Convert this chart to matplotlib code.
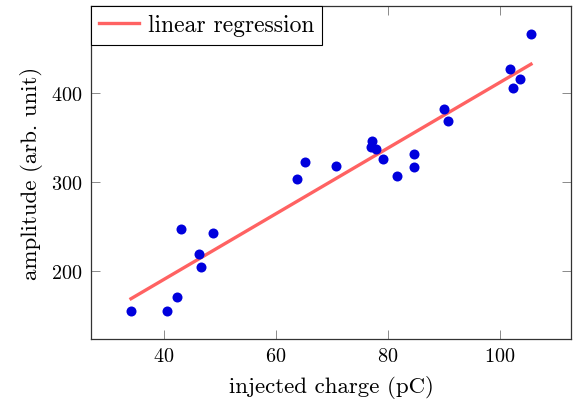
import numpy as np
import matplotlib
matplotlib.use("Agg")
import matplotlib.pyplot as plt

charge = [34.1, 40.6, 42.4, 43.1, 46.3, 46.6, 48.7, 63.8, 65.2, 70.7, 77.2, 77.0,
          77.9, 79.0, 81.5, 84.7, 84.6, 90.0, 90.6, 101.8, 102.2, 103.5, 105.5]
amplitude = [155.1, 155.4, 170.8, 247.9, 219.4, 205.2, 243.4, 303.7, 322.5, 318.0,
             346.7, 339.3, 337.1, 326.5, 307.1, 332.1, 317.2, 381.9, 368.5, 427.0,
             406.0, 415.8, 467.0]
xticks = [40, 60, 80, 100]
yticks = [200, 300, 400]

plt.rcParams['font.family'] = 'serif'
plt.rcParams['font.serif'] = ['cmr10']
plt.rcParams['mathtext.fontset'] = 'cm'
plt.rcParams['axes.formatter.use_mathtext'] = True

fig = plt.figure(figsize=(5.77, 4.06), dpi=100)
ax = fig.add_axes([91/577, 1 - 340/406, (571 - 91)/577, (340 - 7)/406])

x = np.array(charge)
y = np.array(amplitude)
slope, intercept = np.polyfit(x, y, 1)
xl = np.array([x.min(), x.max()])
ax.plot(xl, slope * xl + intercept, color='#ff6262', lw=2.4, label='linear regression', zorder=2)
ax.scatter(x, y, s=52, color='#0000dd', zorder=3, linewidths=0)

xr = x.max() - x.min()
yr = y.max() - y.min()
ax.set_xlim(x.min() - 0.1 * xr, x.max() + 0.1 * xr)
ax.set_ylim(y.min() - 0.1 * yr, y.max() + 0.1 * yr)
ax.set_xticks(xticks)
ax.set_yticks(yticks)
ax.tick_params(direction='in', length=6.5, width=0.6, color='#777777', top=True, right=True,
               labelsize=14.5, pad=6)
for s in ax.spines.values():
    s.set_color('#333333')
    s.set_linewidth(0.9)
ax.set_xlabel('injected charge (pC)', fontsize=16.5, labelpad=7)
ax.set_ylabel('amplitude (arb. unit)', fontsize=16.5, labelpad=6)
leg = ax.legend(loc='upper left', fontsize=17, fancybox=False, edgecolor='black', framealpha=1,
                borderaxespad=0, handlelength=1.7, borderpad=0.35, handletextpad=0.35)
leg.get_frame().set_linewidth(0.8)
fig.savefig('out.png', dpi=100)
